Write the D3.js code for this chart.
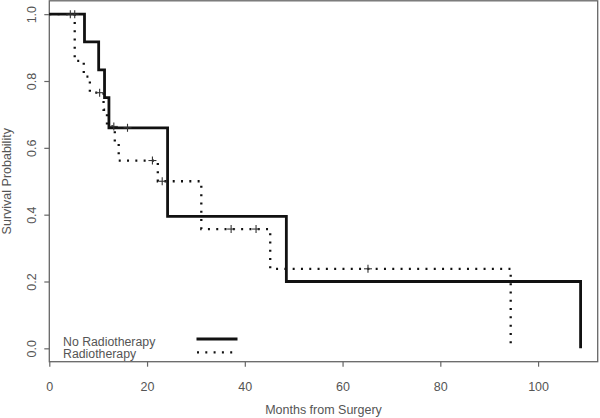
<!DOCTYPE html>
<html>
<head>
<meta charset="utf-8">
<script src="https://cdn.jsdelivr.net/npm/d3@7"></script>
<style>
  body { margin: 0; background: #fff; }
  svg { display: block; }
  text { font-family: "Liberation Sans", Arial, sans-serif; fill: #555; }
</style>
</head>
<body>
<svg id="chart" width="600" height="418"></svg>
<script>
// Kaplan-Meier step points: [month, survival]
const noRadioSteps = [[0,1],[7.2,0.917],[10.1,0.833],[11.3,0.75],[12.2,0.66],[24.2,0.395],[48.5,0.2],[108.7,0]];
const radioSteps = [[0,1],[5.2,0.86],[7.05,0.813],[8.3,0.765],[11.1,0.714],[11.8,0.664],[13.4,0.615],[14.2,0.562],[22.2,0.5],[31.1,0.357],[45.2,0.238],[94.4,0]];
const noRadioCensor = [[16.0,0.66]];
const radioCensor = [[4.3,1],[5.2,1],[10.3,0.765],[13.2,0.664],[21.1,0.562],[23.1,0.5],[37.2,0.357],[42.3,0.357],[65.2,0.238]];
const xTicks = [0,20,40,60,80,100];
const yTicks = [0,0.2,0.4,0.6,0.8,1.0];
const legendLabels = ["No Radiotherapy","Radiotherapy"];
const xTitle = "Months from Surgery";
const yTitle = "Survival Probability";

const svg = d3.select("#chart");
const L = 49.3, R = 597.7, T = 0.8, B = 361.7;
const x = d3.scaleLinear().domain([0,112.2]).range([L,R]);
const y = d3.scaleLinear().domain([-0.04,1.04]).range([B,T]);

// box
svg.append("rect").attr("x",L).attr("y",T).attr("width",R-L).attr("height",B-T)
  .attr("fill","none").attr("stroke","#666").attr("stroke-width",1.3);

// x axis
const xa = svg.append("g").attr("transform",`translate(0,${B})`)
  .call(d3.axisBottom(x).tickValues(xTicks).tickFormat(d3.format("d")).tickSize(5).tickPadding(15));
xa.select(".domain").remove();
xa.selectAll("line").attr("stroke","#666").attr("stroke-width",1.2);
xa.selectAll("text").attr("font-size","12.5px").attr("fill","#555")
  .attr("font-family","Liberation Sans, Arial, sans-serif");

// y axis
const ya = svg.append("g").attr("transform",`translate(${L},0)`)
  .call(d3.axisLeft(y).tickValues(yTicks).tickFormat(d3.format(".1f")).tickSize(5));
ya.select(".domain").remove();
ya.selectAll("line").attr("stroke","#666").attr("stroke-width",1.2);
ya.selectAll("text")
  .attr("x",null).attr("dy",null).attr("text-anchor","middle")
  .attr("transform","translate(-13,0) rotate(-90)")
  .attr("font-size","12.5px").attr("fill","#555")
  .attr("font-family","Liberation Sans, Arial, sans-serif");

// titles
svg.append("text").attr("x",(L+R)/2).attr("y",414).attr("text-anchor","middle")
  .attr("font-size","12.5px").text(xTitle);
svg.append("text").attr("transform",`translate(11,${(T+B)/2}) rotate(-90)`).attr("text-anchor","middle")
  .attr("font-size","12.5px").text(yTitle);

const line = d3.line().x(d=>x(d[0])).y(d=>y(d[1])).curve(d3.curveStepAfter);

svg.append("path").datum(radioSteps).attr("d",line).attr("fill","none")
  .attr("stroke","#111").attr("stroke-width",2.3).attr("stroke-dasharray","2,6.3");
svg.append("path").datum(noRadioSteps).attr("d",line).attr("fill","none")
  .attr("stroke","#111").attr("stroke-width",2.8);

function censor(data){
  const g = svg.append("g");
  data.forEach(d=>{
    const cx = x(d[0]), cy = y(d[1]);
    g.append("line").attr("x1",cx-4).attr("x2",cx+4).attr("y1",cy).attr("y2",cy).attr("stroke","#333").attr("stroke-width",1.1);
    g.append("line").attr("x1",cx).attr("x2",cx).attr("y1",cy-4).attr("y2",cy+4).attr("stroke","#333").attr("stroke-width",1.1);
  });
}
censor(noRadioCensor);
censor(radioCensor);

// legend
const leg = svg.append("g");
leg.append("text").attr("x",63).attr("y",345.5).attr("font-size","12.3px").text(legendLabels[0]);
leg.append("text").attr("x",63).attr("y",358).attr("font-size","12.3px").text(legendLabels[1]);
leg.append("line").attr("x1",196.5).attr("x2",237.5).attr("y1",339).attr("y2",339)
  .attr("stroke","#111").attr("stroke-width",2.8);
leg.append("line").attr("x1",197).attr("x2",237).attr("y1",352.3).attr("y2",352.3)
  .attr("stroke","#111").attr("stroke-width",2.3).attr("stroke-dasharray","2,6.3");
</script>
</body>
</html>
